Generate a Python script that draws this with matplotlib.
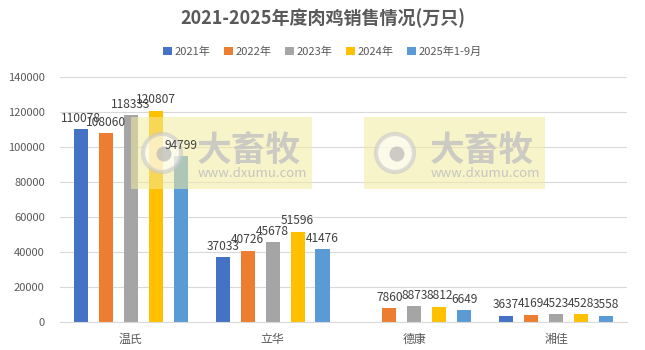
import matplotlib.pyplot as plt
from matplotlib.patches import Rectangle, Ellipse
import numpy as np

plt.rcParams['font.family'] = ['Noto Sans CJK SC', 'DejaVu Sans']

companies = ['温氏', '立华', '德康', '湘佳']
series = ['2021年', '2022年', '2023年', '2024年', '2025年1-9月']
colors = ['#4472c4', '#ed7d31', '#a5a5a5', '#ffc000', '#5b9bd5']

v2021 = [110078, 37033, None, 3637]
v2022 = [108060, 40726, 7860, 4169]
v2023 = [118333, 45678, 8873, 4523]
v2024 = [120807, 51596, 8812, 4528]
v2025 = [94799, 41476, 6649, 3558]
values = [v2021, v2022, v2023, v2024, v2025]

fig = plt.figure(figsize=(6.45, 3.5), dpi=100)
ax = fig.add_axes([0.093, 0.08, 0.879, 0.70])

x = np.arange(len(companies))
width = 0.099
step = 0.176
for i, (name, vals, c) in enumerate(zip(series, values, colors)):
    pos = x + (i - 2) * step
    h = [v if v is not None else 0 for v in vals]
    ax.bar(pos, h, width, color=c, label=name, zorder=2)
    for p, v in zip(pos, vals):
        if v is None:
            continue
        ax.text(p, v + 2500, str(v), ha='center', va='bottom', fontsize=8.6,
                color='#404040', zorder=8)

ax.set_xlim(-0.5, 3.5)
ax.set_ylim(0, 140000)
ax.set_yticks(np.arange(0, 140001, 20000))
ax.set_xticks(x)
ax.set_xticklabels(companies)
ax.tick_params(axis='both', length=0, colors='#595959')
ax.tick_params(axis='y', labelsize=8, pad=11)
ax.tick_params(axis='x', labelsize=8.6, pad=8)
ax.grid(axis='y', color='#d9d9d9', linewidth=0.8, zorder=0)
for s in ['top', 'right', 'left']:
    ax.spines[s].set_visible(False)
ax.spines['bottom'].set_color('#d9d9d9')

# watermark boxes (drawn in the axes, over the bars, under the labels)
ft = fig.transFigure
for wx in [131, 364]:
    x0 = wx / 645
    ax.add_patch(Rectangle((x0, (350 - 189) / 350), 181 / 645, 72 / 350,
                           transform=ft, facecolor='#f3eba0', alpha=0.55,
                           edgecolor='none', zorder=5, clip_on=False))
    cx, cy = x0 + 31 / 645, (350 - 153) / 350
    ax.add_patch(Ellipse((cx, cy), 38 / 645, 38 / 350, transform=ft,
                         facecolor='#ffffff', edgecolor='#c8c8c8', linewidth=3,
                         alpha=0.6, zorder=6, clip_on=False))
    ax.add_patch(Ellipse((cx + 2 / 645, cy - 1 / 350), 15 / 645, 15 / 350,
                         transform=ft, facecolor='#b8b8b8', edgecolor='none',
                         alpha=0.7, zorder=6, clip_on=False))
    ax.text(x0 + 66 / 645, (350 - 150) / 350, '大畜牧', transform=ft, fontsize=25,
            fontweight='bold', color='#c4c4c4', alpha=0.85, va='center',
            ha='left', zorder=6)
    ax.text(x0 + 67 / 645, (350 - 173) / 350, 'www.dxumu.com', transform=ft,
            fontsize=9.5, color='#c0c0c0', alpha=0.9, va='center', ha='left',
            zorder=6)

fig.text(0.5, 0.948, '2021-2025年度肉鸡销售情况(万只)', ha='center', va='center',
         fontsize=13, fontweight='bold', color='#595959')
fig.legend(loc='center', bbox_to_anchor=(0.5, 0.852), ncol=5, frameon=False,
           fontsize=8, handlelength=0.8, handleheight=0.8, columnspacing=1.25,
           handletextpad=0.2, labelcolor='#595959')

fig.savefig('out.png', dpi=100)
